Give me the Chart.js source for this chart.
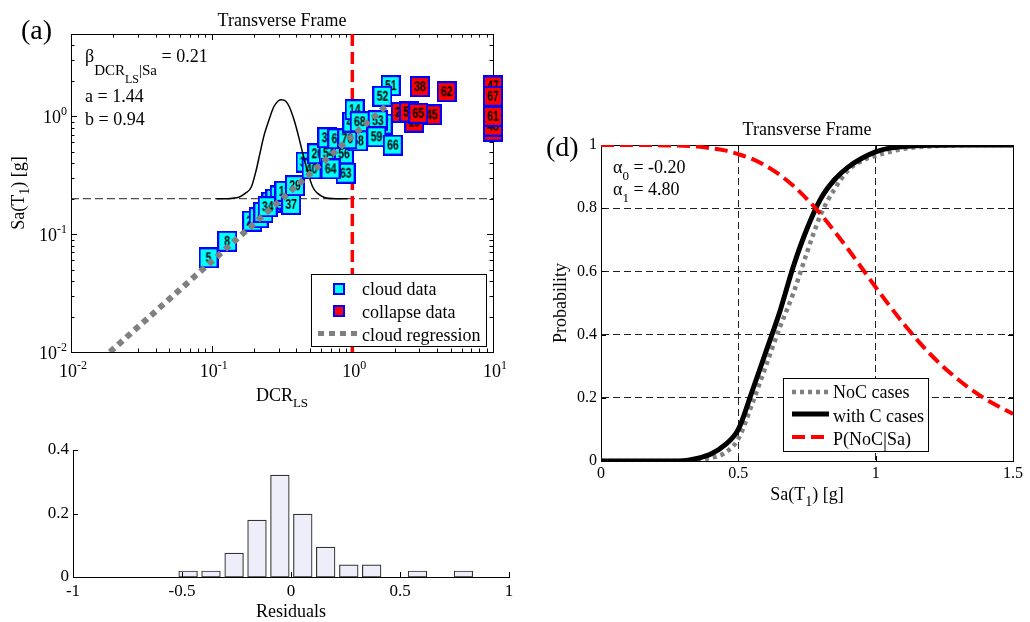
<!DOCTYPE html>
<html lang="en">
<head>
<meta charset="UTF-8">
<title>Cloud analysis - Transverse Frame</title>
<script src="https://cdn.jsdelivr.net/npm/chart.js"></script>
<style>
  html, body { margin: 0; padding: 0; background: #fff; }
  #wrap { position: relative; width: 1030px; height: 622px; }
  #wrap canvas { position: absolute; left: 0; top: 0; }
</style>
</head>
<body>
<div id="wrap">
  <canvas id="cloud" width="1030" height="622"></canvas>
  <canvas id="resid" width="1030" height="622"></canvas>
  <canvas id="frag" width="1030" height="622"></canvas>
</div>
<script>
// ---- (a) cloud analysis, DCR_LS vs Sa(T1) ----
const dcrRange = [0.01, 10];
const saRange = [0.01, 5];
const dcrDecades = [-2, -1, 0, 1];
const saDecades = [-2, -1, 0];

const cloudIds = ['5', '8', '23', '26', '28', '32', '17', '15', '34', '13', '37', '29', '33', '40', '20', '54',
  '56', '63', '64', '39', '58', '60', '70', '44', '14', '68', '57', '53', '59', '66', '51', '52'];
const cloudDcr = [0.095, 0.129, 0.194, 0.216, 0.233, 0.266, 0.284, 0.305, 0.250, 0.329, 0.367, 0.391, 0.465, 0.513, 0.563, 0.678,
  0.871, 0.896, 0.700, 0.664, 1.096, 0.782, 0.921, 1.000, 1.039, 1.127, 1.644, 1.515, 1.483, 1.938, 1.875, 1.636];
const cloudSa = [0.063, 0.087, 0.129, 0.138, 0.153, 0.187, 0.198, 0.211, 0.171, 0.231, 0.179, 0.258, 0.409, 0.358, 0.481, 0.487,
  0.481, 0.329, 0.358, 0.658, 0.620, 0.645, 0.645, 0.894, 1.138, 0.900, 0.860, 0.918, 0.671, 0.570, 1.822, 1.480];

const collapseIds = ['47', '43', '48', '67', '61', '19', '25', '55', '45', '65', '38', '62'];
const collapseDcr = [10, 10, 10, 10, 10, 2.75, 2.21, 2.53, 3.67, 2.94, 3.02, 4.68];
const collapseSa = [1.81, 0.75, 0.827, 1.48, 1.0, 0.894, 1.08, 1.09, 1.03, 1.06, 1.79, 1.62];

const regDcr = [0.0189, 1.84];
const regSa = [0.01, 1.30];

const pdfDcr = [0.108, 0.125, 0.140, 0.156, 0.174, 0.191, 0.207, 0.220, 0.234, 0.255, 0.276, 0.297,
  0.313, 0.335, 0.357, 0.386, 0.416, 0.445, 0.478, 0.524, 0.564, 0.628, 0.760, 0.926];
const pdfSa = [0.2, 0.2, 0.202, 0.206, 0.223, 0.25, 0.347, 0.481, 0.667, 0.925, 1.2, 1.349,
  1.384, 1.349, 1.2, 0.925, 0.667, 0.481, 0.347, 0.25, 0.223, 0.206, 0.2, 0.2];

const saThreshold = 0.2;
const dcrLimit = 1;
const betaFit = '0.21', aFit = '1.44', bFit = '0.94';

// ---- residual histogram ----
const residBins = [-0.893, -0.788, -0.682, -0.577, -0.472, -0.367, -0.261, -0.156, -0.051,
  0.054, 0.159, 0.265, 0.370, 0.475, 0.580, 0.686, 0.791, 0.896];
const residFreq = [0, 0, 0, 0, 0.019, 0.019, 0.075, 0.179, 0.321,
  0.198, 0.094, 0.038, 0.038, 0, 0.019, 0, 0.019, 0];

// ---- (d) fragility curves ----
const fragSa = [0, 0.1, 0.2, 0.3, 0.35, 0.4, 0.45, 0.5, 0.55, 0.6, 0.65, 0.7, 0.75, 0.8,
  0.85, 0.9, 0.95, 1.0, 1.05, 1.1, 1.2, 1.3, 1.4, 1.5];
const pNoC = [0, 0, 0, 0, 0.003, 0.01, 0.025, 0.07, 0.18, 0.30, 0.42, 0.53, 0.66, 0.78,
  0.86, 0.92, 0.95, 0.966, 0.978, 0.988, 0.996, 0.999, 1, 1];
const pWithC = [0, 0, 0, 0.001, 0.008, 0.022, 0.05, 0.10, 0.22, 0.345, 0.47, 0.615, 0.735, 0.83,
  0.89, 0.93, 0.958, 0.978, 0.99, 0.995, 0.999, 1, 1, 1];
const pNoCgivenSa = [1, 1, 0.9996, 0.9975, 0.995, 0.990, 0.983, 0.971, 0.956, 0.934, 0.906, 0.871, 0.829, 0.781,
  0.727, 0.670, 0.610, 0.550, 0.492, 0.436, 0.337, 0.258, 0.196, 0.149];
const alpha0 = '-0.20', alpha1 = '4.80';

const SERIF = '"Liberation Serif", "Times New Roman", serif';
const toXY = (xs, ys) => xs.map((x, i) => ({ x, y: ys[i] }));
const plainNum = v => String(+Number(v).toFixed(3));

// draws a run of text pieces {t, s (px), dy}, used for sub/superscripts
function rich(ctx, parts, x, y, align, angle) {
  ctx.save();
  ctx.translate(x, y);
  if (angle) ctx.rotate(angle);
  ctx.fillStyle = '#000';
  ctx.textAlign = 'left';
  ctx.textBaseline = 'alphabetic';
  let w = 0;
  const ws = parts.map(p => {
    ctx.font = p.s + 'px ' + SERIF;
    const m = ctx.measureText(p.t).width;
    w += m;
    return m;
  });
  let cx = align === 'center' ? -w / 2 : align === 'right' ? -w : 0;
  parts.forEach((p, i) => {
    ctx.font = p.s + 'px ' + SERIF;
    ctx.fillText(p.t, cx, p.dy || 0);
    cx += ws[i];
  });
  ctx.restore();
}

// "10" with the exponent raised
function tenPow(ctx, exp, x, baseline, align) {
  rich(ctx, [{ t: '10', s: 18 }, { t: String(exp), s: 12, dy: -8 }], x, baseline, align);
}

function logTicks(range) {
  const out = [];
  const e0 = Math.floor(Math.log10(range[0]));
  const e1 = Math.ceil(Math.log10(range[1]));
  for (let e = e0; e <= e1; e++) {
    for (let m = 1; m <= 9; m++) {
      const v = m * Math.pow(10, e);
      if (v >= range[0] * 0.999 && v <= range[1] * 1.001) out.push({ v, major: m === 1 });
    }
  }
  return out;
}

// numbered marker drawn as the point style
function makeBadge(id, fill) {
  const c = document.createElement('canvas');
  c.width = 20;
  c.height = 21;
  const g = c.getContext('2d');
  g.fillStyle = fill;
  g.fillRect(0, 0, 20, 21);
  g.strokeStyle = '#0000ff';
  g.lineWidth = 2;
  g.strokeRect(1, 1, 18, 19);
  g.save();
  g.translate(10, 11);
  g.scale(0.88, 1.2);
  g.fillStyle = '#000';
  g.font = 'bold 12px "Liberation Sans", Arial, sans-serif';
  g.textAlign = 'center';
  g.textBaseline = 'middle';
  g.fillText(id, 0, 0);
  g.restore();
  return c;
}

const baseOpts = {
  responsive: false,
  animation: false,
  events: [],
  plugins: { legend: { display: false }, tooltip: { enabled: false } }
};

// ---------- panel (a) ----------
const cloudDecor = {
  id: 'cloudDecor',
  beforeDatasetsDraw(chart) {
    const { ctx, chartArea: a, scales: { x, y } } = chart;
    ctx.save();
    ctx.strokeStyle = '#000';
    ctx.lineWidth = 1;
    ctx.beginPath();
    for (const t of logTicks(dcrRange)) {
      const px = Math.round(x.getPixelForValue(t.v)) + 0.5;
      const len = t.major ? 6 : 3.5;
      ctx.moveTo(px, a.bottom); ctx.lineTo(px, a.bottom - len);
      ctx.moveTo(px, a.top); ctx.lineTo(px, a.top + len);
    }
    for (const t of logTicks(saRange)) {
      const py = Math.round(y.getPixelForValue(t.v)) + 0.5;
      const len = t.major ? 6 : 3.5;
      ctx.moveTo(a.left, py); ctx.lineTo(a.left + len, py);
      ctx.moveTo(a.right, py); ctx.lineTo(a.right - len, py);
    }
    ctx.stroke();
    ctx.strokeRect(Math.round(a.left) + 0.5, Math.round(a.top) + 0.5,
      Math.round(a.right - a.left), Math.round(a.bottom - a.top));
    ctx.restore();
  },
  afterDraw(chart) {
    const { ctx, chartArea: a, scales: { x, y } } = chart;
    for (const e of dcrDecades) tenPow(ctx, e, x.getPixelForValue(Math.pow(10, e)) + 2, a.bottom + 24.5, 'center');
    for (const e of saDecades) tenPow(ctx, e, a.left - 4, y.getPixelForValue(Math.pow(10, e)) + 7, 'right');

    const cx = (a.left + a.right) / 2;
    rich(ctx, [{ t: 'Transverse Frame', s: 18 }], cx, 26, 'center');
    rich(ctx, [{ t: '(a)', s: 28 }], 21, 39, 'left');
    rich(ctx, [{ t: 'DCR', s: 18 }, { t: 'LS', s: 13, dy: 6 }], cx, 401, 'center');
    rich(ctx, [{ t: 'Sa(T', s: 18 }, { t: '1', s: 14, dy: 5 }, { t: ') [g]', s: 18 }],
      24, (a.top + a.bottom) / 2, 'center', -Math.PI / 2);

    rich(ctx, [{ t: 'β', s: 18 }, { t: 'DCR', s: 15, dy: 13 }, { t: 'LS', s: 12, dy: 21 },
      { t: '|', s: 15, dy: 13 }, { t: 'Sa', s: 15, dy: 13 }, { t: ' = ' + betaFit, s: 18 }], 85, 62, 'left');
    rich(ctx, [{ t: 'a = ' + aFit, s: 18 }], 85, 102, 'left');
    rich(ctx, [{ t: 'b = ' + bFit, s: 18 }], 85, 124.5, 'left');

    // legend
    ctx.save();
    ctx.fillStyle = '#fff';
    ctx.fillRect(311.5, 274.5, 175, 72);
    ctx.strokeStyle = '#000';
    ctx.lineWidth = 1;
    ctx.strokeRect(311.5, 274.5, 175, 72);
    ctx.fillStyle = '#00ffff';
    ctx.fillRect(333, 283, 12, 12);
    ctx.fillStyle = '#ff0000';
    ctx.fillRect(333, 305, 12, 12);
    ctx.strokeStyle = '#0000ff';
    ctx.lineWidth = 2;
    ctx.strokeRect(334, 284, 10, 10);
    ctx.strokeRect(334, 306, 10, 10);
    ctx.strokeStyle = '#808080';
    ctx.lineWidth = 5;
    ctx.setLineDash([6, 5]);
    ctx.beginPath();
    ctx.moveTo(318, 333.5);
    ctx.lineTo(359, 333.5);
    ctx.stroke();
    ctx.restore();
    rich(ctx, [{ t: 'cloud data', s: 18 }], 362, 295, 'left');
    rich(ctx, [{ t: 'collapse data', s: 18 }], 362, 318, 'left');
    rich(ctx, [{ t: 'cloud regression', s: 18 }], 362, 340.5, 'left');
  }
};

new Chart(document.getElementById('cloud'), {
  type: 'scatter',
  data: {
    datasets: [
      {
        label: 'cloud regression', data: toXY(regDcr, regSa), showLine: true,
        borderColor: '#808080', borderWidth: 6, borderDash: [6, 5], borderCapStyle: 'butt',
        pointRadius: 0, order: 0
      },
      {
        label: 'pdf', data: toXY(pdfDcr, pdfSa), showLine: true, borderColor: '#000',
        borderWidth: 1.5, pointRadius: 0, cubicInterpolationMode: 'monotone', order: 1
      },
      {
        label: 'collapse data', data: toXY(collapseDcr, collapseSa),
        pointStyle: collapseIds.map(id => makeBadge(id, '#ff0000')), pointRadius: 10,
        clip: false, order: 2
      },
      {
        label: 'cloud data', data: toXY(cloudDcr, cloudSa),
        pointStyle: cloudIds.map(id => makeBadge(id, '#00ffff')), pointRadius: 10,
        clip: false, order: 3
      },
      {
        label: 'limit', data: toXY([dcrLimit, dcrLimit], saRange), showLine: true,
        borderColor: '#ff0000', borderWidth: 3.5, borderDash: [12, 6], pointRadius: 0, order: 4
      },
      {
        label: 'threshold', data: toXY(dcrRange, [saThreshold, saThreshold]), showLine: true,
        borderColor: '#222', borderWidth: 1, borderDash: [8, 4], pointRadius: 0, order: 5
      }
    ]
  },
  options: {
    ...baseOpts,
    layout: { padding: { left: 71, top: 34, right: 537, bottom: 270 }, autoPadding: false },
    scales: {
      x: { type: 'logarithmic', min: dcrRange[0], max: dcrRange[1], display: false },
      y: { type: 'logarithmic', min: saRange[0], max: saRange[1], display: false }
    }
  },
  plugins: [cloudDecor]
});

// ---------- residual histogram ----------
const tickFont = size => ({ family: SERIF, size });

const residDecor = {
  id: 'residDecor',
  afterDraw(chart) {
    const { ctx, chartArea: a, scales: { x, y } } = chart;
    ctx.save();
    ctx.strokeStyle = '#000';
    ctx.lineWidth = 1;
    ctx.beginPath();
    for (const t of x.ticks) {
      const px = Math.round(x.getPixelForValue(t.value)) + 0.5;
      ctx.moveTo(px, a.bottom); ctx.lineTo(px, a.bottom - 5);
    }
    for (const t of y.ticks) {
      const py = Math.round(y.getPixelForValue(t.value)) + 0.5;
      ctx.moveTo(a.left, py); ctx.lineTo(a.left + 5, py);
    }
    ctx.stroke();
    ctx.restore();
    rich(ctx, [{ t: 'Residuals', s: 18 }], (a.left + a.right) / 2, 617, 'center');
  }
};

new Chart(document.getElementById('resid'), {
  type: 'bar',
  data: {
    datasets: [{
      data: toXY(residBins, residFreq),
      backgroundColor: '#eeeefa', borderColor: '#333', borderWidth: 1.2,
      borderSkipped: false, barThickness: 18.7
    }]
  },
  options: {
    ...baseOpts,
    layout: { padding: { left: 33, top: 450, right: 521, bottom: 5 }, autoPadding: false },
    scales: {
      x: {
        type: 'linear', min: -1, max: 1, offset: false,
        ticks: { stepSize: 0.5, padding: 4, color: '#000', font: tickFont(17), maxRotation: 0, callback: plainNum },
        grid: { display: false, drawTicks: false, offset: false }, border: { color: '#000', width: 1 },
        afterFit: s => { s.height = 40; }
      },
      y: {
        min: 0, max: 0.4,
        ticks: { stepSize: 0.2, padding: 4, color: '#000', font: tickFont(17), callback: plainNum },
        grid: { display: false, drawTicks: false }, border: { color: '#000', width: 1 },
        afterFit: s => { s.width = 40; }
      }
    }
  },
  plugins: [residDecor]
});

// ---------- panel (d) ----------
const fragDecor = {
  id: 'fragDecor',
  beforeDatasetsDraw(chart) {
    const { ctx, chartArea: a, scales: { x, y } } = chart;
    ctx.save();
    ctx.strokeStyle = '#000';
    ctx.lineWidth = 1;
    ctx.beginPath();
    for (const t of x.ticks) {
      const px = Math.round(x.getPixelForValue(t.value)) + 0.5;
      ctx.moveTo(px, a.bottom); ctx.lineTo(px, a.bottom - 5);
      ctx.moveTo(px, a.top); ctx.lineTo(px, a.top + 5);
    }
    for (const t of y.ticks) {
      const py = Math.round(y.getPixelForValue(t.value)) + 0.5;
      ctx.moveTo(a.left, py); ctx.lineTo(a.left + 5, py);
      ctx.moveTo(a.right, py); ctx.lineTo(a.right - 5, py);
    }
    ctx.stroke();
    ctx.strokeRect(Math.round(a.left) + 0.5, Math.round(a.top) + 0.5,
      Math.round(a.right - a.left), Math.round(a.bottom - a.top));
    ctx.restore();
  },
  afterDraw(chart) {
    const { ctx, chartArea: a } = chart;
    const cx = (a.left + a.right) / 2;
    rich(ctx, [{ t: 'Transverse Frame', s: 18 }], cx, 135, 'center');
    rich(ctx, [{ t: '(d)', s: 28 }], 546, 156, 'left');
    rich(ctx, [{ t: 'Sa(T', s: 18 }, { t: '1', s: 14, dy: 6 }, { t: ') [g]', s: 18 }], cx, 500, 'center');
    rich(ctx, [{ t: 'Probability', s: 18 }], 566, (a.top + a.bottom) / 2, 'center', -Math.PI / 2);
    rich(ctx, [{ t: 'α', s: 18 }, { t: '0', s: 13, dy: 7 }, { t: ' = ' + alpha0, s: 18 }], 613, 173, 'left');
    rich(ctx, [{ t: 'α', s: 18 }, { t: '1', s: 13, dy: 7 }, { t: ' = ' + alpha1, s: 18 }], 613, 195, 'left');

    // legend
    ctx.save();
    ctx.fillStyle = '#fff';
    ctx.fillRect(783.5, 378.5, 145, 73);
    ctx.strokeStyle = '#000';
    ctx.lineWidth = 1;
    ctx.strokeRect(783.5, 378.5, 145, 73);
    ctx.lineCap = 'butt';
    const sample = (yy, color, width, dash) => {
      ctx.strokeStyle = color;
      ctx.lineWidth = width;
      ctx.setLineDash(dash);
      ctx.beginPath();
      ctx.moveTo(792, yy);
      ctx.lineTo(829, yy);
      ctx.stroke();
    };
    sample(392, '#808080', 4.5, [4, 4]);
    sample(414, '#000', 5, []);
    sample(437, '#ff0000', 4, [13, 6]);
    ctx.restore();
    rich(ctx, [{ t: 'NoC cases', s: 18 }], 833, 398, 'left');
    rich(ctx, [{ t: 'with C cases', s: 18 }], 833, 421.5, 'left');
    rich(ctx, [{ t: 'P(NoC', s: 18 }, { t: '|', s: 20, dy: 1 }, { t: 'Sa)', s: 18 }], 833, 444.5, 'left');
  }
};

new Chart(document.getElementById('frag'), {
  type: 'line',
  data: {
    datasets: [
      {
        label: 'P(NoC|Sa)', data: toXY(fragSa, pNoCgivenSa), borderColor: '#ff0000',
        borderWidth: 4, borderDash: [13, 6], order: 0
      },
      { label: 'with C cases', data: toXY(fragSa, pWithC), borderColor: '#000', borderWidth: 5, order: 1 },
      {
        label: 'NoC cases', data: toXY(fragSa, pNoC), borderColor: '#808080',
        borderWidth: 4.5, borderDash: [4, 4], order: 2
      }
    ]
  },
  options: {
    ...baseOpts,
    layout: { padding: { left: 561, top: 145, right: 17, bottom: 121 }, autoPadding: false },
    elements: {
      point: { radius: 0 },
      line: { cubicInterpolationMode: 'monotone', borderCapStyle: 'butt', fill: false }
    },
    scales: {
      x: {
        type: 'linear', min: 0, max: 1.5,
        ticks: { stepSize: 0.5, padding: 3, color: '#000', font: tickFont(16), maxRotation: 0, callback: plainNum },
        grid: { color: '#222', lineWidth: 1, drawTicks: false },
        border: { color: '#000', width: 1, dash: [7, 4] },
        afterFit: s => { s.height = 40; }
      },
      y: {
        min: 0, max: 1,
        ticks: { stepSize: 0.2, padding: 4, color: '#000', font: tickFont(16), callback: plainNum },
        grid: { color: '#222', lineWidth: 1, drawTicks: false },
        border: { color: '#000', width: 1, dash: [7, 4] },
        afterFit: s => { s.width = 40; }
      }
    }
  },
  plugins: [fragDecor]
});
</script>
</body>
</html>
